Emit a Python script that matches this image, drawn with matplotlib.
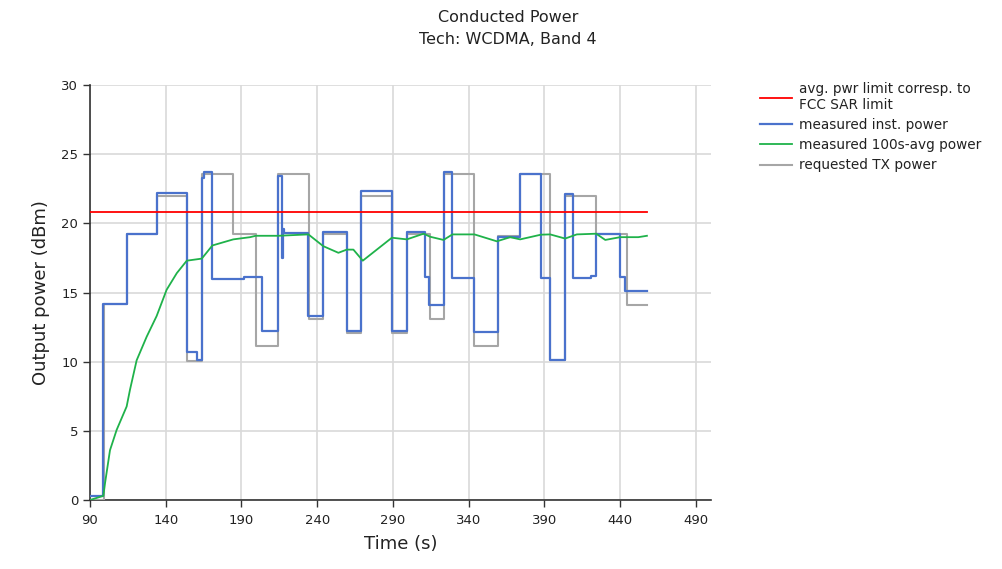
import matplotlib
matplotlib.use("Agg")
import matplotlib.pyplot as plt

# ---- data ----
limit_value = 20.8
limit_t = [90, 457.7]

req_t = [90, 99, 114.7, 134.5, 154.3, 164, 184.6, 199.4, 214.4, 234.6, 244, 259.5, 269,
         289.3, 299.2, 314.6, 323.4, 343.8, 359.3, 374, 393.8, 403.7, 424.2, 444.5, 457.7]
req_p = [0.0, 14.2, 19.2, 22.0, 10.05, 23.6, 19.2, 11.1, 23.6, 13.1, 19.2, 12.1, 22.0,
         12.1, 19.2, 13.1, 23.6, 11.1, 19.1, 23.6, 10.1, 22.0, 19.2, 14.1, 14.1]

meas_t = [90, 98.8, 114.7, 134.5, 154.3, 160.5, 163.8, 165, 170.8, 192, 203.4, 214.4,
          217, 217.4, 218, 234.2, 244, 259.5, 269, 289.3, 299.2, 311.3, 313.5, 323.4,
          329.3, 343.8, 359.3, 374, 387.7, 393.8, 403.7, 409.2, 420.7, 424.2, 439.6,
          443.4, 457.7]
meas_p = [0.3, 14.2, 19.2, 22.2, 10.7, 10.1, 23.3, 23.7, 16.0, 16.1, 12.2, 23.4,
          17.5, 19.6, 19.3, 13.3, 19.35, 12.2, 22.35, 12.2, 19.35, 16.1, 14.1, 23.7,
          16.07, 12.17, 19.0, 23.6, 16.07, 10.1, 22.1, 16.07, 16.2, 19.2, 16.1,
          15.12, 15.12]

avg_t = [90, 98.8, 99.9, 103.2, 107.6, 114.2, 116.4, 120.8, 127.4, 134, 140.6, 147.3,
         153.9, 163.8, 170.8, 184.6, 195.7, 199.4, 214.4, 234.2, 244, 254, 259.5, 263.9,
         270.1, 289.3, 299.2, 310.2, 314.6, 323.4, 329.3, 343.8, 358.6, 367.4, 374,
         387.7, 393.8, 403.7, 411.4, 424.2, 430.2, 440, 452, 457.7]
avg_p = [0.0, 0.3, 1.2, 3.6, 5.07, 6.76, 7.97, 10.1, 11.8, 13.3, 15.2, 16.4,
         17.3, 17.45, 18.4, 18.84, 19.0, 19.1, 19.1, 19.2, 18.35, 17.87, 18.1, 18.1,
         17.3, 18.96, 18.84, 19.25, 19.03, 18.8, 19.2, 19.2, 18.7, 19.0, 18.84,
         19.18, 19.2, 18.9, 19.2, 19.25, 18.8, 19.0, 19.0, 19.1]

x_ticks = [90, 140, 190, 240, 290, 340, 390, 440, 490]
y_ticks = [0, 5, 10, 15, 20, 25, 30]

# ---- figure ----
fig = plt.figure(figsize=(10.02, 5.69), dpi=100)
ax = fig.add_axes([90 / 1002, 1 - 500 / 569, (711 - 90) / 1002, (500 - 85) / 569])

ax.plot(limit_t, [limit_value] * len(limit_t), color="#ff0000", lw=1.3,
        label="avg. pwr limit corresp. to\nFCC SAR limit", zorder=5)
ax.step(meas_t, meas_p, where="post", color="#4a72cc", lw=1.6,
        label="measured inst. power", zorder=4)
ax.plot(avg_t, avg_p, color="#1fb24a", lw=1.3,
        label="measured 100s-avg power", zorder=6)
ax.step(req_t, req_p, where="post", color="#a6a6a6", lw=1.5,
        label="requested TX power", zorder=3)

ax.set_xlim(90, 500)
ax.set_ylim(0, 30)
ax.set_xticks(x_ticks)
ax.set_yticks(y_ticks)
ax.grid(True, color="#d9d9d9", lw=1.2)
ax.set_axisbelow(True)
for s in ("top", "right"):
    ax.spines[s].set_visible(False)
for s in ("left", "bottom"):
    ax.spines[s].set_color("#333333")
    ax.spines[s].set_linewidth(1.2)
ax.tick_params(axis="both", labelsize=9.5, colors="#333333", length=5, width=1,
               labelcolor="#222222")
ax.tick_params(axis="x", pad=5)
ax.set_xlabel("Time (s)", fontsize=13, color="#222222", labelpad=6)
ax.set_ylabel("Output power (dBm)", fontsize=13, color="#222222", labelpad=8)

fig.text(508 / 1002, 1 - 17 / 569, "Conducted Power", ha="center", va="center",
         fontsize=11.5, color="#222222")
fig.text(508 / 1002, 1 - 40 / 569, "Tech: WCDMA, Band 4", ha="center", va="center",
         fontsize=11.5, color="#222222")

handles, labels = ax.get_legend_handles_labels()
fig.legend(handles, labels, loc="upper left", bbox_to_anchor=(753 / 1002, 1 - 75 / 569),
           frameon=False, fontsize=9.8, handlelength=2.4, handletextpad=0.5,
           labelspacing=0.45, borderpad=0, labelcolor="#222222")

fig.savefig("out.png", dpi=100)
